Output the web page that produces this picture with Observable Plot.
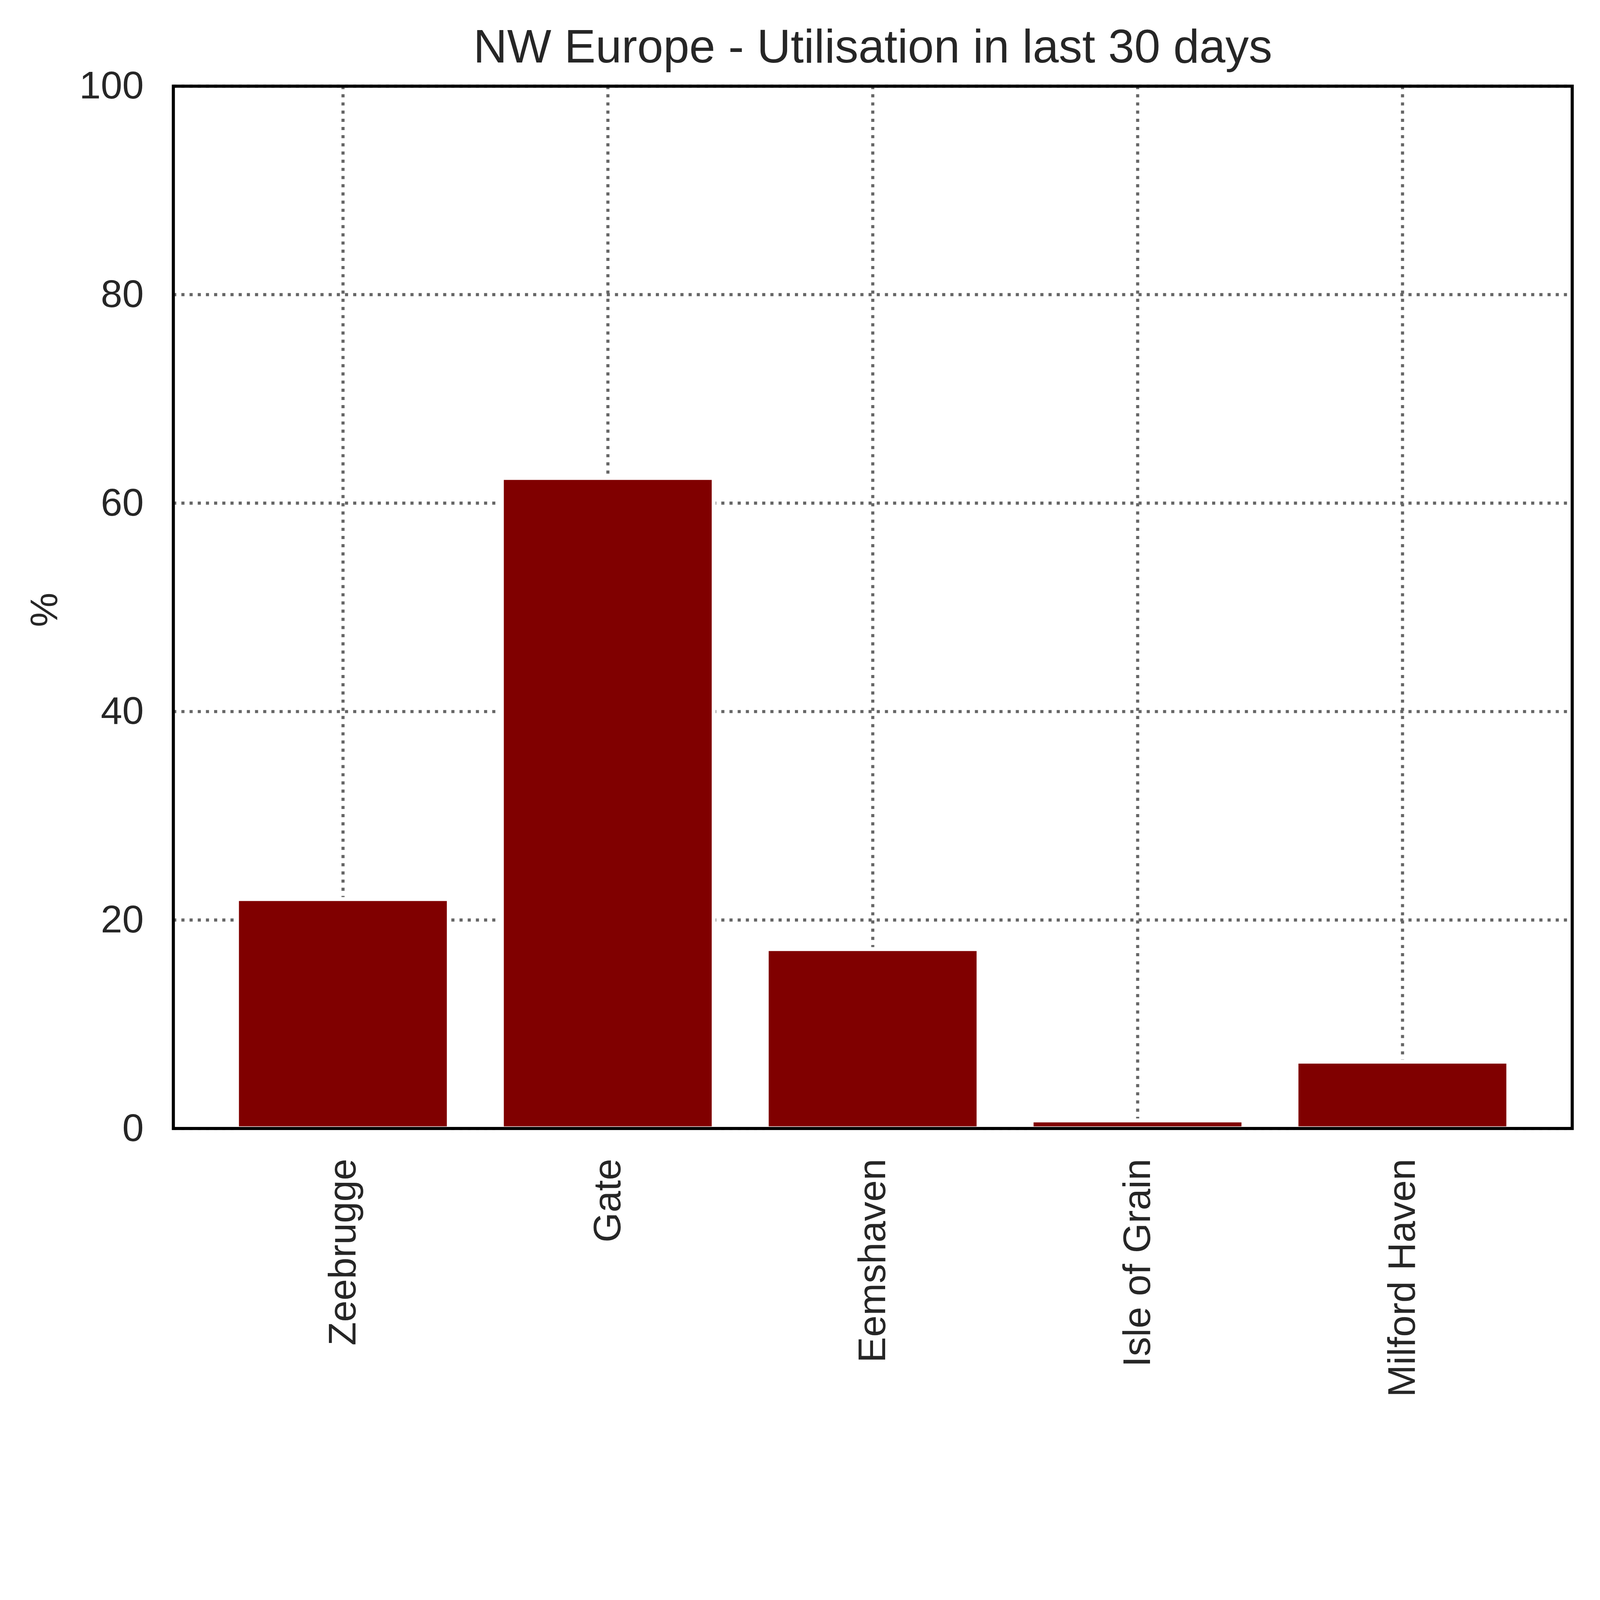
<!DOCTYPE html>
<html>
<head>
<meta charset="utf-8">
<script src="https://cdn.jsdelivr.net/npm/d3@7"></script>
<script src="https://cdn.jsdelivr.net/npm/@observablehq/plot@0.6"></script>
<style>
  html, body { margin: 0; padding: 0; background: white; overflow: hidden; }
  #chart svg { display: block; }
</style>
</head>
<body>
<div id="chart"></div>
<script>
const categories = ["Zeebrugge", "Gate", "Eemshaven", "Isle of Grain", "Milford Haven"];
const utilisation = [22.0, 62.4, 17.2, 0.76, 6.4];
const yTicks = [0, 20, 40, 60, 80, 100];
const yLabel = "%";
const titleText = "NW Europe - Utilisation in last 30 days";

const data = categories.map((c, i) => ({terminal: c, value: utilisation[i]}));

const gridStyle = {stroke: "#666", strokeOpacity: 1, strokeWidth: 11, strokeDasharray: "11,18"};

const chart = Plot.plot({
  width: 5672,
  height: 5054,
  marginTop: 305,
  marginBottom: 1054,
  marginLeft: 614,
  marginRight: 99,
  style: {fontFamily: "'Liberation Sans', Arial, sans-serif", fontSize: "137px", color: "#262626", background: "white", overflow: "visible"},
  x: {domain: categories, paddingInner: 0.2, paddingOuter: 0.24, label: null},
  y: {domain: [0, 100], label: null},
  marks: [
    Plot.gridY(yTicks, gridStyle),
    Plot.gridX(categories, gridStyle),
    Plot.barY(data, {x: "terminal", y: "value", fill: "#800000", stroke: "white", strokeWidth: 14}),
    Plot.frame({stroke: "black", strokeWidth: 11}),
    Plot.axisY(yTicks, {tickSize: 0, tickPadding: 105, fontSize: 137, label: null}),
    Plot.axisX({tickSize: 0, tickPadding: 107, tickRotate: -90, fontSize: 137, label: null}),
    Plot.text([yLabel], {text: d => d, frameAnchor: "left", dx: -456, dy: 70, rotate: -90, fontSize: 137, fill: "#262626"}),
    Plot.text([titleText], {text: d => d, frameAnchor: "top", dy: -137, lineAnchor: "middle", fontSize: 166, fill: "#262626"})
  ]
});
document.getElementById("chart").appendChild(chart);
</script>
</body>
</html>
